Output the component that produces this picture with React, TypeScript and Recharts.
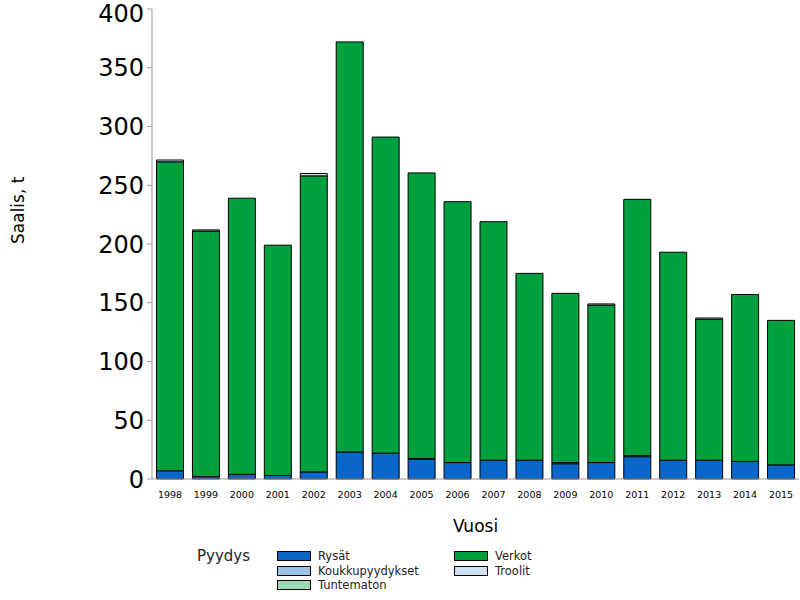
import { BarChart, Bar, XAxis, YAxis } from 'recharts';

const years = ['1998', '1999', '2000', '2001', '2002', '2003', '2004', '2005', '2006', '2007', '2008', '2009', '2010', '2011', '2012', '2013', '2014', '2015'];
const rysat = [7, 2, 4, 3, 6, 23, 22, 17, 14, 16, 16, 13, 14, 19, 16, 16, 15, 12];
const koukkupyydykset = [0, 0, 0, 0, 0, 0, 0, 0, 0, 0, 0, 0, 0, 0, 0, 0, 0, 0];
const tuntematon = [0, 0, 0, 0, 0, 0, 0, 0.5, 0, 0, 0, 1, 0, 1, 0, 0, 0, 0];
const verkot = [263, 209, 235, 196, 252, 349, 269, 243, 222, 203, 159, 144, 134, 218, 177, 120, 142, 123];
const troolit = [1.5, 1, 0, 0, 2, 0, 0, 0, 0, 0, 0, 0, 1, 0, 0, 1, 0, 0];
const yTicks = [0, 50, 100, 150, 200, 250, 300, 350, 400];

const series = [
  { key: 'rysat', name: 'Rysät', color: '#0A66C8' },
  { key: 'koukku', name: 'Koukkupyydykset', color: '#9AC4EA' },
  { key: 'tuntematon', name: 'Tuntematon', color: '#9ED9B6' },
  { key: 'verkot', name: 'Verkot', color: '#00A03E' },
  { key: 'troolit', name: 'Troolit', color: '#CDE2F2' },
];

const data = years.map((year, i) => ({
  year,
  rysat: rysat[i],
  koukku: koukkupyydykset[i],
  tuntematon: tuntematon[i],
  verkot: verkot[i],
  troolit: troolit[i],
}));

const font = '"DejaVu Sans", Verdana, sans-serif';

// legend laid out in two columns like the original
const legendColumns = [
  ['Rysät', 'Koukkupyydykset', 'Tuntematon'],
  ['Verkot', 'Troolit'],
];

const ChartLegend = () => (
  <div style={{ position: 'absolute', left: 0, top: 547, width: 800, fontFamily: font, color: '#222' }}>
    <div style={{ position: 'absolute', left: 197, top: 0, fontSize: 15 }}>Pyydys</div>
    {legendColumns.map((col, ci) => (
      <div key={ci} style={{ position: 'absolute', left: ci === 0 ? 277 : 454, top: 2 }}>
        {col.map(name => {
          const s = series.find(x => x.name === name)!;
          return (
            <div key={name} style={{ display: 'flex', alignItems: 'center', height: 14.5, fontSize: 11.5 }}>
              <span style={{ display: 'inline-block', width: 32, height: 8, background: s.color, border: '1px solid #000', marginRight: 7 }} />
              <span>{name}</span>
            </div>
          );
        })}
      </div>
    ))}
  </div>
);

const App = () => {
  return (
    <div style={{ position: 'absolute', left: 0, top: 0, width: 800, height: 600, background: '#fff' }}>
      <BarChart
        width={800}
        height={600}
        data={data}
        margin={{ top: 9, right: 1, left: 0, bottom: 68 }}
        barCategoryGap="12.5%"
      >
        <XAxis
          dataKey="year"
          stroke="#999"
          tickLine={false}
          interval={0}
          height={53}
          tick={{ fontSize: 9.5, fill: '#000', fontFamily: font }}
          tickMargin={6}
          label={{ value: 'Vuosi', position: 'insideBottom', offset: 0, fontSize: 17, fill: '#000', fontFamily: font }}
        />
        <XAxis xAxisId="top" orientation="top" dataKey="year" stroke="#999" tick={false} tickLine={false} height={0} />
        <YAxis
          domain={[0, 400]}
          ticks={yTicks}
          width={152}
          stroke="#999"
          tickSize={5}
          tickMargin={3}
          tick={{ fontSize: 24, fill: '#000', fontFamily: font }}
          label={{ value: 'Saalis, t', angle: -90, position: 'insideLeft', offset: 18, fontSize: 17, fill: '#000', fontFamily: font }}
        />
        <YAxis yAxisId="right" orientation="right" domain={[0, 400]} stroke="#999" tick={false} tickLine={false} width={0} />
        {series.map(s => (
          <Bar
            key={s.key}
            dataKey={s.key}
            name={s.name}
            stackId="a"
            fill={s.color}
            stroke="#000"
            strokeWidth={1}
            isAnimationActive={false}
          />
        ))}
      </BarChart>
      <ChartLegend />
    </div>
  );
};

export default App;
